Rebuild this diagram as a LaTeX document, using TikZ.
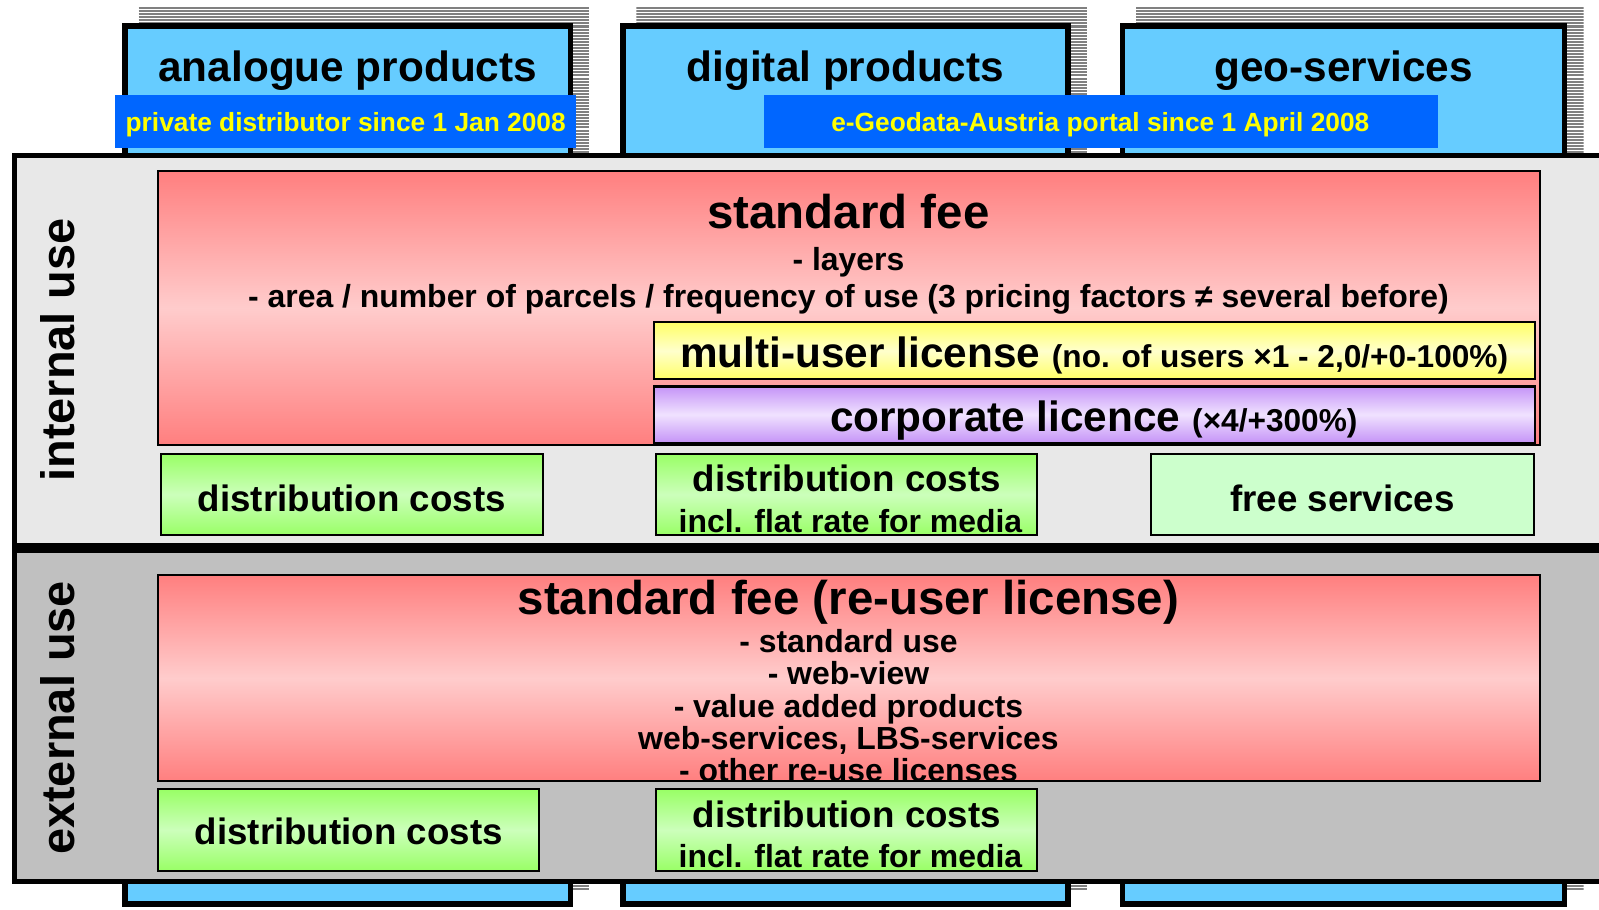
\documentclass[tikz,border=0pt]{standalone}
\usepackage{fontspec}
\setmainfont{Liberation Sans}
\definecolor{colblue}{HTML}{66CCFF}
\definecolor{lblblue}{HTML}{0066FF}
\definecolor{lblyellow}{HTML}{FFFF00}
\definecolor{hatchgray}{HTML}{808080}
\definecolor{panelA}{HTML}{E8E8E8}
\definecolor{panelB}{HTML}{C0C0C0}
\definecolor{redA}{HTML}{FF7F7F}
\definecolor{redB}{HTML}{FFCCCC}
\definecolor{yelA}{HTML}{FFFF66}
\definecolor{yelB}{HTML}{FFFFCC}
\definecolor{purA}{HTML}{C594F7}
\definecolor{purB}{HTML}{F0E2FF}
\definecolor{grnA}{HTML}{99FF66}
\definecolor{grnB}{HTML}{CCFFBB}
\definecolor{grnC}{HTML}{CCFFCC}
\begin{document}
\begin{tikzpicture}[x=1pt,y=-1pt,
  every node/.style={inner sep=0pt,outer sep=0pt},
  colbox/.style={draw=black,line width=5.5pt,fill=colblue,rectangle,anchor=north west},
  hatch/.style={draw=hatchgray,line width=2pt},
  lblbox/.style={fill=lblblue,rectangle,anchor=north west},
  lbltext/.style={text=lblyellow,font=\bfseries\fontsize{25.8}{30}\selectfont,anchor=base},
  coltext/.style={font=\bfseries\fontsize{41.5}{48}\selectfont,anchor=base},
  panelbox/.style={draw=black,line width=5pt,rectangle,anchor=north west},
  thinbox/.style={draw=black,line width=2pt,rectangle,anchor=north west},
  redbox/.style={thinbox,top color=redA,bottom color=redA,middle color=redB},
  yelbox/.style={thinbox,top color=yelA,bottom color=yelA,middle color=yelB},
  purbox/.style={thinbox,top color=purA,bottom color=purA,middle color=purB},
  grnbox/.style={thinbox,top color=grnA,bottom color=grnA,middle color=grnB},
  freebox/.style={thinbox,fill=grnC},
  bigtext/.style={font=\bfseries\fontsize{46.5}{54}\selectfont,anchor=base},
  midtext/.style={font=\bfseries\fontsize{31.3}{36}\selectfont,anchor=base},
  disttext/.style={font=\bfseries\fontsize{36}{42}\selectfont,anchor=base},
  sidetext/.style={font=\bfseries\fontsize{46}{54}\selectfont,rotate=90,anchor=mid}
]
\useasboundingbox (0,0) rectangle (1568,891.4);
\clip (0,0) rectangle (1568,891.4);
\fill[white] (0,0) rectangle (1568,891.4);

% shadows (hatched)
\foreach \xa/\xb in {136/578, 624/1066, 1114/1553}{
  \begin{scope}
    \clip (\xa,7) rectangle (\xb,873);
    \foreach \k in {0,...,290}{
      \draw[hatch] (\xa,{8+3*\k}) -- (\xb,{8+3*\k});
    }
  \end{scope}
}

% columns
\node[colbox,minimum width=436.5pt,minimum height=860.5pt] (colA) at (122.75,25.75) {};
\node[colbox,minimum width=436.5pt,minimum height=860.5pt] (colB) at (610.75,25.75) {};
\node[colbox,minimum width=433.5pt,minimum height=860.5pt] (colC) at (1100.75,25.75) {};
\node[coltext] (tA) at (341,80) {analogue products};
\node[coltext] (tB) at (829,80) {digital products};
\node[coltext] (tC) at (1317.5,80) {geo-services};

% blue labels
\node[lblbox,minimum width=452pt,minimum height=52pt] (lA) at (113,93) {};
\node[lbltext] (lAt) at (339,129) {private distributor since 1 Jan 2008};
\node[lblbox,minimum width=661pt,minimum height=52pt] (lB) at (749,93) {};
\node[lbltext] (lBt) at (1079,129) {e-Geodata-Austria portal since 1 April 2008};

% panels
\node[panelbox,fill=panelA,minimum width=1700pt,minimum height=382pt] (inpanel) at (14.5,152.5) {};
\node[panelbox,fill=panelB,minimum width=1700pt,minimum height=325pt] (expanel) at (14.5,539.5) {};
\node[sidetext] (inlab) at (70,343) {internal use};
\node[sidetext] (exlab) at (70,704) {external use};

% internal use
\node[redbox,minimum width=1355pt,minimum height=268pt] (sf) at (155,168) {};
\node[bigtext] (sft) at (832,224) {standard fee};
\node[midtext] (sf1) at (832,265) {- layers};
\node[midtext] (sf2) at (832,302) {- area / number of parcels / frequency of use (3 pricing factors ≠ several before)};
\node[yelbox,minimum width=864pt,minimum height=56pt] (mu) at (641,316) {};
\node[anchor=base,font=\bfseries] (mut) at (1073,360) {\fontsize{41.5}{48}\selectfont multi-user license \fontsize{31}{36}\selectfont(no. of users ×1 - 2,0/+0-100\%)};
\node[purbox,minimum width=864pt,minimum height=55pt] (cl) at (641,379) {};
\node[anchor=base,font=\bfseries] (clt) at (1072.5,423) {\fontsize{41.5}{48}\selectfont corporate licence \fontsize{31}{36}\selectfont(×4/+300\%)};

\node[grnbox,minimum width=374pt,minimum height=80pt] (d1) at (158,445) {};
\node[disttext] (d1t) at (345,502) {distribution costs};
\node[grnbox,minimum width=374pt,minimum height=80pt] (d2) at (643,445) {};
\node[disttext] (d2t) at (830.5,482) {distribution costs};
\node[midtext] (d2s) at (834,522) {incl. flat rate for media};
\node[freebox,minimum width=375pt,minimum height=80pt] (fs) at (1129,445) {};
\node[disttext] (fst) at (1316.5,502) {free services};

% external use
\node[redbox,minimum width=1355pt,minimum height=202pt] (xf) at (155,564) {};
\node[bigtext] (xft) at (832,603) {standard fee (re-user license)};
\node[midtext] (x1) at (832,639.5) {- standard use};
\node[midtext] (x2) at (832,671.5) {- web-view};
\node[midtext] (x3) at (832,703.5) {- value added products};
\node[midtext] (x4) at (832,734.5) {web-services, LBS-services};
\node[midtext] (x5) at (832,766.5) {- other re-use licenses};

\node[grnbox,minimum width=374pt,minimum height=80pt] (e1) at (155,774) {};
\node[disttext] (e1t) at (342,828) {distribution costs};
\node[grnbox,minimum width=374pt,minimum height=80pt] (e2) at (643,774) {};
\node[disttext] (e2t) at (830.5,811) {distribution costs};
\node[midtext] (e2s) at (834,851) {incl. flat rate for media};
\end{tikzpicture}
\end{document}
